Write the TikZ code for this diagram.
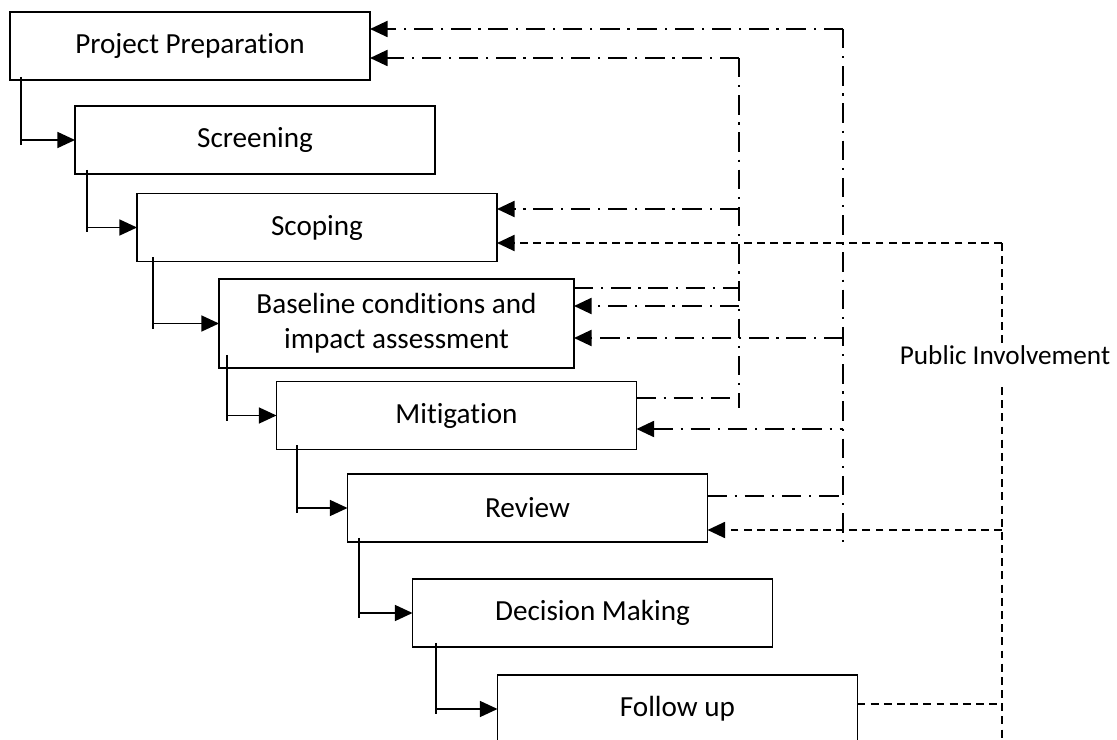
\documentclass[tikz,border=0pt]{standalone}
\usepackage{fontspec}
\setmainfont{Carlito}[Ligatures=NoCommon]
\usetikzlibrary{arrows.meta}
\usetikzlibrary{calc}

\begin{document}
\begin{tikzpicture}[x=0.02cm, y=-0.02cm,
  stage/.style={draw, line width=0.9pt, minimum width=7.2cm, minimum height=1.36cm,
    inner sep=0pt, outer sep=0pt, align=center, font=\fontsize{16.6}{19.8}\selectfont},
  stepline/.style={line width=1.1pt},
  tip/.style={-{Triangle[length=10pt,width=9pt]}},
  dashdot/.style={dash pattern=on 11pt off 4.5pt on 1.2pt off 4.5pt},
  ddarrow/.style={dashdot, line width=1.4pt, tip},
  ddthin/.style={dashdot, line width=0.8pt},
  ddcolumn/.style={dashdot, line width=1pt},
  dsh/.style={dash pattern=on 4.5pt off 3pt},
  dsharrow/.style={dsh, line width=1.4pt, tip},
  dshcolumn/.style={dsh, line width=1pt}]

  \useasboundingbox (0,0) rectangle (1117,740);

  % stages
  \node[stage] (pp)   at (190,46)      {Project Preparation};
  \node[stage] (scr)  at (255,140)     {Screening};
  \node[stage] (scop) at (317,227.5)   {Scoping};
  \node[stage, minimum width=7.1cm, minimum height=1.78cm] (base) at (396.5,323.5)
    {Baseline conditions and\\impact assessment};
  \node[stage] (mit)  at (456.5,415.5) {Mitigation};
  \node[stage] (rev)  at (527.5,508)   {Review};
  \node[stage] (dec)  at (592.5,613)   {Decision Making};
  \node[stage] (fol)  at (677.5,709)   {Follow up};

  % step arrows
  \foreach \a/\b/\d/\s in {pp/scr/11/3, scr/scop/12/4, scop/base/16/4, base/mit/8/13,
                           mit/rev/20/4, rev/dec/11/4, dec/fol/23/4} {
    \draw[stepline] ($(\a.south west)+(\d,-\s)$) coordinate (s) -- (s |- \b.west) -- ++(0,5);
    \draw[stepline, tip] (s |- \b.west) -- (\b.west);
  }

  % public involvement
  \node[font=\fontsize{15.5}{18}\selectfont, inner sep=0pt] (pub) at (1005,355) {Public Involvement};

  \coordinate (outer top) at (843,29);
  \coordinate (outer end) at (843,542);
  \coordinate (inner top) at (739,58);
  \coordinate (inner end) at (739,408);
  \coordinate (pub top) at (1002,243);
  \coordinate (gap top) at (1002,345);
  \coordinate (gap end) at (1002,387);
  \coordinate (pub end) at (1002,745);

  \path (739,209) coordinate (iScop) (739,288) coordinate (iBaseA)
        (739,306) coordinate (iBaseB) (739,398) coordinate (iMit)
        (843,338) coordinate (oBase) (843,429) coordinate (oMit)
        (843,496) coordinate (oRev)
        (1002,530) coordinate (pRev) (1002,704) coordinate (pFol);

  % dash-dot loops
  \draw[ddcolumn] (outer top) -- (outer end);
  \draw[ddcolumn] (inner top) -- (inner end);
  \draw[ddarrow] (outer top) -- (outer top -| pp.east);
  \draw[ddarrow] (inner top) -- (inner top -| pp.east);
  \draw[ddarrow] (iScop) -- (iScop -| scop.east);
  \draw[ddthin] (iBaseA -| base.east) -- (iBaseA);
  \draw[ddarrow] (iBaseB) -- (iBaseB -| base.east);
  \draw[ddarrow] (oBase) -- (oBase -| base.east);
  \draw[ddthin] (iMit -| mit.east) -- (iMit);
  \draw[ddarrow, {Triangle[length=10pt,width=9pt]}-] (oMit -| mit.east) -- (oMit);
  \draw[ddthin] (oRev -| rev.east) -- (oRev);

  % dashed loop
  \draw[dshcolumn] (pub top) -- (gap top);
  \draw[dshcolumn] (gap end) -- (pub end);
  \draw[dsharrow] (pub top) -- (pub top -| scop.east);
  \draw[dsharrow] (pRev) -- (pRev -| rev.east);
  \draw[dshcolumn] (pFol -| fol.east) -- (pFol);
\end{tikzpicture}
\end{document}
